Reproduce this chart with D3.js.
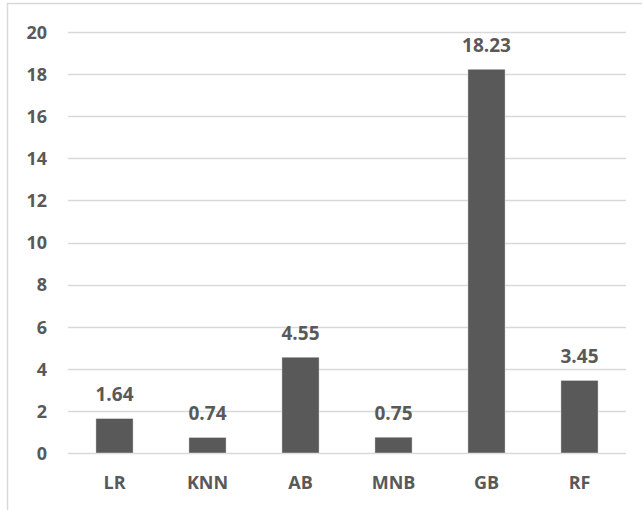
<!DOCTYPE html>
<html>
<head>
<meta charset="utf-8">
<script src="https://cdn.jsdelivr.net/npm/d3@7"></script>
<style>
  html, body { margin: 0; padding: 0; background: #fff; }
  svg { display: block; }
</style>
</head>
<body>
<svg id="chart" width="642" height="510"></svg>
<script>
const categories = ["LR", "KNN", "AB", "MNB", "GB", "RF"];
const values = [1.64, 0.74, 4.55, 0.75, 18.23, 3.45];
const yTicks = [0, 2, 4, 6, 8, 10, 12, 14, 16, 18, 20];

const svg = d3.select("#chart");
const font = "'Open Sans', 'Liberation Sans', sans-serif";
const textColor = "#595959";

// chart frame (extends past the right and bottom edges)
svg.append("rect")
  .attr("x", 7.5).attr("y", 3.5)
  .attr("width", 700).attr("height", 600)
  .attr("fill", "none").attr("stroke", "#d9d9d9").attr("stroke-width", 1.5);

const plotLeft = 68, plotRight = 626, plotTop = 32, plotBottom = 453;

const x = d3.scaleBand().domain(categories).range([plotLeft, plotRight])
  .paddingInner(0.6).paddingOuter(0.3);
const y = d3.scaleLinear().domain([0, 20]).range([plotBottom, plotTop]);

// horizontal gridlines
svg.append("g").selectAll("line").data(yTicks).join("line")
  .attr("x1", plotLeft).attr("x2", plotRight)
  .attr("y1", d => Math.round(y(d)) + 0.5).attr("y2", d => Math.round(y(d)) + 0.5)
  .attr("stroke", "#d9d9d9").attr("stroke-width", 1.3);

// y axis labels
const yAxis = d3.axisLeft(y).tickValues(yTicks).tickSize(0).tickPadding(0);
const gy = svg.append("g").attr("transform", "translate(47,0)").call(yAxis);
gy.select(".domain").remove();
gy.selectAll("text")
  .attr("font-family", font).attr("font-weight", 700).attr("font-size", 18)
  .attr("fill", textColor).attr("dy", "0.35em");

// bars
svg.append("g").selectAll("rect").data(values).join("rect")
  .attr("x", (d, i) => x(categories[i]))
  .attr("width", x.bandwidth())
  .attr("y", d => y(d))
  .attr("height", d => y(0) - y(d))
  .attr("fill", "#595959")
  .attr("stroke", "#ffffff").attr("stroke-opacity", 0.5).attr("stroke-width", 0.8);

// value labels
svg.append("g").selectAll("text").data(values).join("text")
  .attr("x", (d, i) => x(categories[i]) + x.bandwidth() / 2)
  .attr("y", d => y(d) - 17)
  .attr("text-anchor", "middle")
  .attr("font-family", font).attr("font-weight", 700).attr("font-size", 19)
  .attr("fill", textColor)
  .text(d => d.toFixed(2));

// x axis labels
const xAxis = d3.axisBottom(x).tickSize(0).tickPadding(0);
const gx = svg.append("g").attr("transform", "translate(0,483)").call(xAxis);
gx.select(".domain").remove();
gx.selectAll("text")
  .attr("font-family", font).attr("font-weight", 700).attr("font-size", 18)
  .attr("fill", textColor).attr("dy", "0.35em");
</script>
</body>
</html>
